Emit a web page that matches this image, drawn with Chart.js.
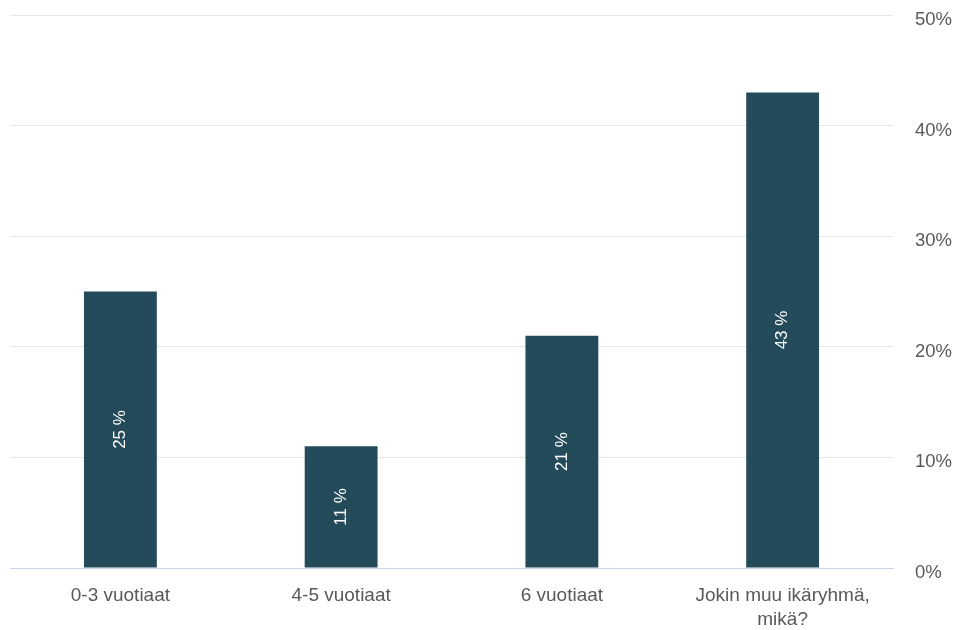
<!DOCTYPE html>
<html>
<head>
<meta charset="utf-8">
<script src="https://cdn.jsdelivr.net/npm/chart.js@4/dist/chart.umd.min.js"></script>
<style>
  html, body { margin: 0; padding: 0; background: #ffffff; }
  #wrap { width: 958px; height: 630px; position: relative; }
</style>
</head>
<body>
<div id="wrap"><canvas id="c"></canvas></div>
<script>
const categories = [['0-3 vuotiaat'], ['4-5 vuotiaat'], ['6 vuotiaat'], ['Jokin muu ikäryhmä,', 'mikä?']];
const values = [25, 11, 21, 43];
const valueLabels = ['25 %', '11 %', '21 %', '43 %'];
const yTickMax = 50;
const yTickStep = 10;

const barLabelPlugin = {
  id: 'barLabels',
  afterDatasetsDraw(chart) {
    const ctx = chart.ctx;
    const meta = chart.getDatasetMeta(0);
    ctx.save();
    ctx.fillStyle = '#ffffff';
    ctx.font = '17px "Liberation Sans", Arial, sans-serif';
    ctx.textAlign = 'center';
    ctx.textBaseline = 'middle';
    meta.data.forEach((bar, i) => {
      const p = bar.getProps(['x', 'y', 'base'], true);
      const cy = (p.y + p.base) / 2;
      ctx.save();
      ctx.translate(p.x, cy);
      ctx.rotate(-Math.PI / 2);
      ctx.fillText(valueLabels[i], 0, 0);
      ctx.restore();
    });
    ctx.restore();
  }
};

new Chart(document.getElementById('c'), {
  type: 'bar',
  data: {
    labels: categories,
    datasets: [{
      data: values,
      backgroundColor: '#234b5a',
      borderWidth: 0,
      barPercentage: 0.33,
      categoryPercentage: 1.0
    }]
  },
  options: {
    responsive: true,
    maintainAspectRatio: false,
    animation: false,
    layout: { padding: { left: 10, right: 0, top: 15, bottom: 0 } },
    plugins: {
      legend: { display: false },
      tooltip: { enabled: false }
    },
    scales: {
      x: {
        grid: { display: false },
        border: { display: true, color: '#ccd6eb', width: 1 },
        ticks: {
          color: '#595959',
          font: { family: '"Liberation Sans", Arial, sans-serif', size: 19, lineHeight: 1.25 },
          padding: 8,
          maxRotation: 0,
          autoSkip: false
        },
        afterFit(scale) { scale.height = 62; scale.paddingLeft = 0; scale.paddingRight = 0; }
      },
      y: {
        position: 'right',
        min: 0,
        max: yTickMax,
        grid: { color: '#e6e6e6', drawTicks: false },
        border: { display: false },
        ticks: {
          stepSize: yTickStep,
          color: '#595959',
          font: { family: '"Liberation Sans", Arial, sans-serif', size: 18.5 },
          padding: 22,
          labelOffset: 5,
          callback: (v) => v + '%'
        },
        afterFit(scale) { scale.width = 65; scale.paddingTop = 0; scale.paddingBottom = 0; }
      }
    }
  },
  plugins: [barLabelPlugin]
});
</script>
</body>
</html>
